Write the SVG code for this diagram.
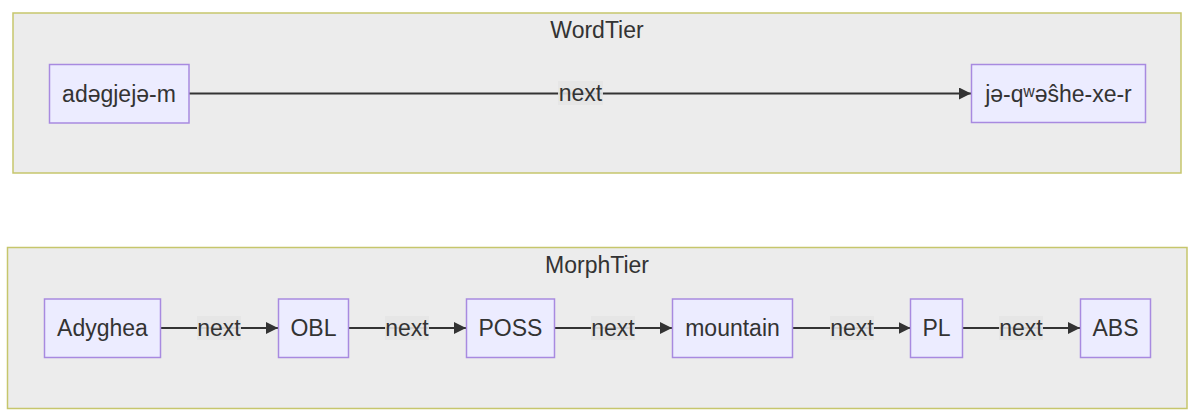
<svg xmlns="http://www.w3.org/2000/svg" width="1194" height="419" viewBox="0 0 1194 419">
<style>
text{font-family:"Liberation Sans",Arial,sans-serif;font-size:23px;fill:#333;}
.cluster{fill:#ececec;stroke:#c6c66c;stroke-width:1.5;}
.node rect{fill:#ececff;stroke:#a88ae0;stroke-width:1.5;}
.node text,.lbl text{text-anchor:middle;dominant-baseline:central;}
.title{text-anchor:middle;}
.edge{stroke:#333;stroke-width:2;fill:none;}
.lbl rect{fill:#e6e6e6;fill-opacity:0.9;}
</style>
<defs>
<marker id="arr" viewBox="0 0 10 10" refX="10" refY="5" markerWidth="6" markerHeight="6" markerUnits="strokeWidth" orient="auto">
<path d="M0,0 L10,5 L0,10 z" fill="#333"/>
</marker>
</defs>
<g id="WordTier">
<rect class="cluster" x="13" y="13" width="1168" height="160"/>
<text class="title" x="597" y="38">WordTier</text>
</g>
<g id="MorphTier">
<rect class="cluster" x="7.5" y="247.5" width="1179.5" height="161"/>
<text class="title" x="597" y="273">MorphTier</text>
</g>
<g id="connectors">
<path class="edge" d="M189,93.5 L971,93.5" marker-end="url(#arr)"/>
<path class="edge" d="M161,328 L278,328" marker-end="url(#arr)"/>
<path class="edge" d="M349,328 L466,328" marker-end="url(#arr)"/>
<path class="edge" d="M555,328 L672,328" marker-end="url(#arr)"/>
<path class="edge" d="M793,328 L910.5,328" marker-end="url(#arr)"/>
<path class="edge" d="M963,328 L1080,328" marker-end="url(#arr)"/>
<g class="lbl"><rect x="558" y="81" width="45" height="24"/><text x="580.5" y="93">next</text></g>
<g class="lbl"><rect x="197" y="316" width="44" height="24"/><text x="219" y="328">next</text></g>
<g class="lbl"><rect x="385" y="316" width="44" height="24"/><text x="407" y="328">next</text></g>
<g class="lbl"><rect x="591" y="316" width="44" height="24"/><text x="613" y="328">next</text></g>
<g class="lbl"><rect x="830" y="316" width="44" height="24"/><text x="852" y="328">next</text></g>
<g class="lbl"><rect x="999" y="316" width="44" height="24"/><text x="1021" y="328">next</text></g>
</g>
<g id="w1" class="node"><rect x="49.5" y="64.5" width="139.5" height="58.5"/><text x="119" y="93.5">adəgjejə-m</text></g>
<g id="w2" class="node"><rect x="971.5" y="64.5" width="174" height="58"/><text x="1058.5" y="93.5">jə-qʷəŝhe-xe-r</text></g>
<g id="m1" class="node"><rect x="44.5" y="299" width="116" height="58.5"/><text x="102.5" y="328">Adyghea</text></g>
<g id="m2" class="node"><rect x="278.5" y="299" width="70" height="58.5"/><text x="313.5" y="328">OBL</text></g>
<g id="m3" class="node"><rect x="466.5" y="299" width="88" height="58.5"/><text x="510.5" y="328">POSS</text></g>
<g id="m4" class="node"><rect x="672.5" y="299" width="120" height="58.5"/><text x="732.5" y="328">mountain</text></g>
<g id="m5" class="node"><rect x="910.5" y="299" width="52" height="58.5"/><text x="936.5" y="328">PL</text></g>
<g id="m6" class="node"><rect x="1080.5" y="299" width="70" height="58.5"/><text x="1115.5" y="328">ABS</text></g>
</svg>
